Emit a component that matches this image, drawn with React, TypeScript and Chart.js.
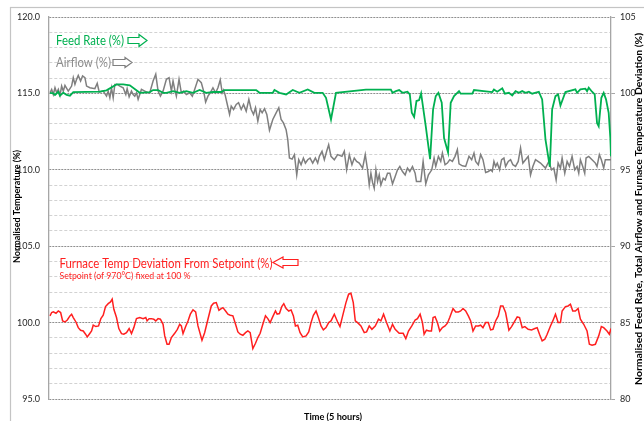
import React, { useEffect, useRef } from 'react';
import { Chart, registerables } from 'chart.js';

Chart.register(...registerables);

const FONT = 'Lato, "Noto Sans", sans-serif';

// time axis: sample steps across the 5-hour run
const timeMax = 1690;

const feedTime = [3, 13, 18, 28, 33, 43, 53, 63, 73, 153, 173, 203, 223, 243, 273, 303, 313, 328, 343, 353, 373, 393, 413, 433, 453, 473, 493, 518, 528, 623, 633, 673, 678, 693, 713, 733, 753, 778, 798, 823, 833, 848, 863, 953, 1028, 1033, 1043, 1053, 1063, 1078, 1085, 1091, 1098, 1105, 1113, 1119, 1133, 1146, 1155, 1163, 1171, 1181, 1188, 1200, 1208, 1218, 1233, 1238, 1273, 1278, 1333, 1338, 1348, 1363, 1371, 1383, 1393, 1403, 1413, 1423, 1433, 1443, 1453, 1473, 1483, 1493, 1506, 1513, 1523, 1531, 1538, 1553, 1583, 1588, 1598, 1613, 1618, 1623, 1633, 1641, 1648, 1653, 1661, 1668, 1675, 1683, 1688, 1690];
const feedRate = [100.04, 100.0, 99.9, 100.1, 99.85, 100.05, 99.9, 99.85, 100.09, 100.11, 100.2, 100.59, 100.59, 100.53, 100.04, 100.09, 100.22, 100.22, 100.04, 100.04, 100.15, 100.04, 100.15, 100.04, 100.22, 100.04, 100.09, 100.09, 100.22, 100.22, 100.04, 100.04, 100.22, 100.04, 99.93, 100.22, 100.04, 100.26, 100.04, 100.04, 99.71, 98.29, 100.04, 100.25, 100.25, 100.04, 100.15, 100.22, 100.04, 100.11, 99.93, 98.73, 98.46, 99.5, 99.56, 100.0, 97.85, 95.7, 98.95, 99.82, 100.04, 99.39, 97.08, 96.14, 99.39, 99.82, 100.15, 99.98, 99.98, 100.22, 100.09, 100.26, 100.11, 100.33, 99.98, 100.04, 99.87, 100.15, 100.04, 100.15, 100.04, 100.11, 99.98, 100.11, 99.61, 96.97, 95.2, 98.95, 99.82, 99.93, 99.21, 100.09, 100.26, 100.04, 100.26, 100.31, 100.15, 100.37, 100.11, 99.93, 98.07, 97.85, 99.71, 100.04, 99.61, 98.73, 97.08, 95.88];

const airTime = [3, 8, 13, 18, 23, 28, 33, 38, 43, 48, 58, 68, 73, 78, 83, 88, 95, 101, 108, 113, 123, 138, 145, 151, 163, 173, 178, 183, 188, 193, 198, 205, 213, 223, 231, 235, 241, 248, 253, 258, 263, 268, 278, 288, 298, 303, 313, 321, 328, 335, 343, 353, 361, 368, 373, 378, 383, 391, 398, 405, 413, 423, 431, 438, 448, 458, 465, 471, 478, 485, 493, 501, 508, 515, 521, 525, 530, 535, 543, 548, 555, 563, 570, 578, 585, 593, 601, 608, 615, 621, 628, 635, 641, 648, 655, 663, 673, 683, 691, 698, 705, 713, 718, 723, 731, 738, 745, 751, 758, 765, 771, 778, 785, 793, 801, 808, 813, 821, 828, 835, 841, 848, 858, 868, 881, 888, 895, 903, 911, 918, 925, 933, 943, 951, 958, 963, 968, 973, 978, 983, 988, 993, 998, 1005, 1011, 1018, 1025, 1033, 1041, 1048, 1055, 1063, 1071, 1078, 1085, 1093, 1101, 1105, 1118, 1125, 1133, 1141, 1151, 1158, 1163, 1171, 1178, 1183, 1191, 1198, 1205, 1213, 1221, 1228, 1233, 1243, 1253, 1263, 1271, 1278, 1283, 1291, 1298, 1305, 1313, 1321, 1328, 1333, 1338, 1343, 1348, 1355, 1361, 1368, 1373, 1381, 1388, 1395, 1403, 1411, 1418, 1425, 1433, 1441, 1448, 1455, 1463, 1478, 1493, 1503, 1511, 1518, 1525, 1531, 1538, 1543, 1551, 1558, 1565, 1573, 1581, 1588, 1593, 1598, 1605, 1611, 1615, 1623, 1633, 1643, 1648, 1655, 1661, 1668, 1673, 1683, 1690];
const airflow = [100.04, 100.26, 99.93, 100.37, 100.04, 100.26, 99.87, 100.48, 100.15, 100.53, 100.15, 100.48, 101.03, 100.59, 100.92, 101.18, 100.81, 101.14, 101.03, 100.48, 100.37, 100.31, 100.66, 100.09, 100.15, 99.82, 100.15, 99.71, 100.37, 99.71, 100.59, 100.59, 100.48, 100.37, 99.93, 100.31, 99.78, 100.15, 99.93, 99.82, 100.04, 99.61, 100.26, 100.15, 100.04, 100.04, 100.81, 101.25, 100.15, 99.82, 100.15, 100.92, 101.03, 100.15, 100.81, 100.26, 99.82, 100.92, 100.04, 100.15, 99.93, 100.04, 99.82, 100.26, 100.92, 100.7, 100.15, 99.43, 99.82, 100.04, 100.37, 100.04, 100.37, 100.88, 100.04, 100.22, 99.87, 99.39, 98.62, 99.17, 98.95, 99.28, 99.39, 98.95, 99.28, 98.84, 99.61, 98.95, 98.62, 99.06, 98.18, 98.95, 98.73, 99.0, 98.62, 97.59, 98.29, 98.73, 99.06, 98.29, 98.07, 97.63, 96.97, 95.77, 95.7, 95.99, 94.67, 95.66, 95.33, 95.77, 95.44, 95.66, 95.77, 95.44, 95.77, 95.44, 95.88, 96.21, 95.66, 96.21, 96.64, 95.88, 95.66, 95.99, 95.88, 96.21, 95.0, 95.99, 95.33, 95.77, 95.55, 95.44, 95.11, 95.99, 95.0, 94.01, 94.78, 94.17, 93.79, 95.0, 94.23, 94.67, 94.01, 94.45, 94.34, 94.78, 94.78, 94.08, 94.56, 95.0, 95.22, 94.89, 94.67, 95.11, 94.89, 95.22, 94.78, 94.23, 94.23, 95.55, 94.08, 94.67, 95.0, 95.77, 95.22, 95.88, 95.55, 96.1, 95.33, 95.44, 95.66, 95.55, 95.88, 96.32, 95.39, 95.26, 95.22, 95.88, 95.66, 96.1, 95.55, 95.33, 95.99, 95.66, 94.82, 94.89, 95.0, 94.89, 95.55, 95.22, 95.44, 95.0, 95.66, 95.77, 95.22, 95.55, 95.66, 95.33, 95.22, 95.55, 96.43, 95.44, 95.66, 95.88, 94.67, 95.22, 95.66, 95.44, 95.11, 95.55, 95.0, 95.11, 94.34, 95.44, 95.11, 95.77, 94.78, 95.55, 95.22, 95.88, 95.0, 95.22, 94.78, 95.66, 95.22, 94.78, 95.77, 95.88, 95.66, 95.44, 95.22, 95.99, 95.66, 95.11, 95.66, 95.66, 95.66];

const tempTime = [3, 8, 13, 21, 28, 35, 41, 48, 55, 63, 68, 73, 81, 88, 95, 103, 110, 115, 121, 128, 133, 141, 149, 156, 163, 170, 178, 185, 190, 195, 203, 210, 218, 225, 233, 241, 248, 255, 263, 273, 283, 291, 295, 301, 308, 315, 321, 328, 335, 343, 348, 355, 361, 368, 378, 386, 393, 398, 403, 411, 418, 425, 433, 441, 448, 460, 468, 478, 488, 495, 503, 511, 518, 523, 531, 538, 545, 553, 561, 568, 575, 583, 591, 598, 605, 613, 621, 628, 635, 643, 651, 658, 665, 673, 681, 686, 693, 700, 706, 713, 721, 728, 735, 741, 748, 755, 763, 773, 781, 788, 795, 803, 810, 818, 825, 833, 841, 848, 858, 868, 875, 883, 893, 901, 908, 915, 921, 928, 938, 948, 955, 963, 971, 981, 991, 998, 1006, 1015, 1025, 1033, 1041, 1053, 1065, 1073, 1081, 1091, 1101, 1108, 1116, 1123, 1128, 1135, 1143, 1150, 1155, 1161, 1168, 1175, 1183, 1191, 1198, 1205, 1215, 1223, 1231, 1238, 1245, 1253, 1261, 1268, 1275, 1283, 1291, 1298, 1305, 1313, 1321, 1328, 1335, 1343, 1351, 1358, 1365, 1373, 1383, 1391, 1401, 1408, 1415, 1423, 1431, 1441, 1451, 1461, 1468, 1475, 1483, 1491, 1498, 1508, 1515, 1523, 1531, 1538, 1543, 1553, 1561, 1568, 1575, 1583, 1591, 1598, 1608, 1618, 1625, 1633, 1643, 1653, 1661, 1668, 1678, 1685, 1690];
const tempDeviation = [100.44, 100.66, 100.7, 100.61, 100.76, 100.66, 100.11, 100.04, 100.17, 100.44, 100.55, 100.33, 100.04, 99.67, 99.5, 99.45, 99.24, 99.06, 99.24, 99.45, 99.83, 99.74, 99.78, 100.26, 100.48, 101.05, 101.24, 101.35, 101.53, 100.87, 100.33, 99.61, 99.28, 99.24, 99.34, 99.61, 99.28, 99.67, 100.26, 100.33, 100.26, 100.33, 100.11, 100.26, 100.26, 100.22, 100.11, 100.26, 100.22, 99.89, 99.13, 98.58, 98.58, 99.02, 99.3, 99.56, 99.89, 99.78, 99.28, 99.74, 100.11, 100.55, 100.83, 100.7, 99.78, 98.84, 99.34, 100.22, 101.09, 101.27, 101.31, 100.81, 100.92, 100.98, 100.76, 100.55, 100.48, 100.44, 99.89, 99.39, 99.24, 99.17, 99.34, 99.45, 99.34, 98.3, 98.65, 99.02, 99.3, 99.89, 100.44, 100.26, 100.0, 100.39, 100.76, 100.55, 100.59, 101.05, 101.24, 100.92, 100.76, 100.83, 100.44, 99.78, 99.83, 99.34, 99.06, 99.13, 99.39, 100.0, 100.48, 100.76, 100.33, 99.78, 99.52, 99.67, 100.0, 100.11, 100.55, 100.04, 99.74, 100.44, 101.31, 101.86, 101.92, 101.31, 100.11, 100.0, 99.78, 99.34, 99.39, 99.78, 99.56, 99.78, 100.22, 100.11, 100.55, 100.0, 99.45, 99.89, 99.56, 99.3, 99.3, 98.95, 99.45, 99.78, 100.17, 100.26, 100.55, 100.0, 99.24, 99.5, 99.45, 99.45, 100.33, 100.39, 100.0, 99.45, 99.67, 99.78, 99.96, 100.33, 100.92, 100.7, 100.7, 100.76, 100.92, 100.76, 100.44, 100.11, 99.45, 99.78, 99.78, 99.83, 99.67, 100.0, 100.0, 99.52, 99.56, 100.11, 100.44, 101.09, 101.09, 100.66, 99.5, 99.74, 100.11, 100.37, 100.33, 99.67, 99.74, 99.56, 99.52, 99.61, 99.67, 99.24, 98.8, 98.91, 99.24, 99.78, 100.11, 100.55, 100.0, 100.0, 100.76, 101.05, 101.09, 101.2, 100.76, 100.76, 100.92, 100.22, 99.89, 99.45, 98.58, 98.52, 98.58, 99.13, 99.74, 99.67, 99.45, 99.24, 99.61];

const leftMin = 95, leftMax = 120;
const rightMin = 80, rightMax = 105;
const majorStep = 5;

const feedLabel = 'Feed Rate (%)';
const airLabel = 'Airflow (%)';
const tempLabel = 'Furnace Temp Deviation From Setpoint (%)';
const setpointNote = 'Setpoint (of 970°C) fixed at 100 %';
const leftTitle = 'Normalised Temperature (%)';
const rightTitle = 'Normalised Feed Rate, Total Airflow and Furnace Temperature Deviation (%)';
const xTitle = 'Time (5 hours)';

const GREEN = '#00b050';
const GRAY = '#7f7f7f';
const RED = '#ff1f1f';

function zip(t: number[], v: number[]) {
  return t.map((x, i) => ({ x, y: v[i] }));
}

// draws text at a given font size, squeezed horizontally to the given width
function drawText(ctx: CanvasRenderingContext2D, text: string, color: string, x: number, cy: number, width: number, size: number, weight = 'normal', align: CanvasTextAlign = 'left') {
  ctx.save();
  ctx.font = `${weight} ${size}px ${FONT}`;
  const w = ctx.measureText(text).width;
  const sx = width / w;
  ctx.translate(x, cy);
  ctx.scale(sx, 1);
  ctx.fillStyle = color;
  ctx.textAlign = align;
  ctx.textBaseline = 'middle';
  ctx.fillText(text, 0, 0);
  ctx.restore();
}

function blockArrow(ctx: CanvasRenderingContext2D, x0: number, x1: number, cy: number, head: number, shaft: number, headHalf: number, dir: 1 | -1, color: string) {
  ctx.save();
  ctx.beginPath();
  if (dir === 1) {
    ctx.moveTo(x0, cy - shaft);
    ctx.lineTo(x1 - head, cy - shaft);
    ctx.lineTo(x1 - head, cy - headHalf);
    ctx.lineTo(x1, cy);
    ctx.lineTo(x1 - head, cy + headHalf);
    ctx.lineTo(x1 - head, cy + shaft);
    ctx.lineTo(x0, cy + shaft);
  } else {
    ctx.moveTo(x1, cy - shaft);
    ctx.lineTo(x0 + head, cy - shaft);
    ctx.lineTo(x0 + head, cy - headHalf);
    ctx.lineTo(x0, cy);
    ctx.lineTo(x0 + head, cy + headHalf);
    ctx.lineTo(x0 + head, cy + shaft);
    ctx.lineTo(x1, cy + shaft);
  }
  ctx.closePath();
  ctx.fillStyle = '#ffffff';
  ctx.fill();
  ctx.lineWidth = 1.2;
  ctx.strokeStyle = color;
  ctx.stroke();
  ctx.restore();
}

const decorPlugin = {
  id: 'decor',
  beforeDraw(chart: any) {
    const ctx = chart.ctx as CanvasRenderingContext2D;
    ctx.save();
    ctx.fillStyle = '#ffffff';
    ctx.fillRect(0, 0, chart.width, chart.height);
    ctx.strokeStyle = '#c4c4c4';
    ctx.lineWidth = 1.2;
    ctx.strokeRect(10.5, 7.5, 800, 600);
    ctx.restore();
  },
  afterDraw(chart: any) {
    const ctx = chart.ctx as CanvasRenderingContext2D;
    const area = chart.chartArea;
    ctx.save();
    drawText(ctx, feedLabel, GREEN, 56, 40.5, 68, 13);
    blockArrow(ctx, 128, 147, 40.5, 8, 3, 6, 1, GREEN);
    drawText(ctx, airLabel, '#8c8c8c', 56, 62.5, 55, 13);
    blockArrow(ctx, 113, 132, 62.5, 7, 3, 5, 1, GRAY);
    drawText(ctx, tempLabel, RED, 59.5, 263.5, 213, 13.5);
    blockArrow(ctx, 273, 298, 262.5, 10, 3, 5.5, -1, RED);
    drawText(ctx, setpointNote, RED, 59.5, 275.5, 131, 9.5);

    const midY = (area.top + area.bottom) / 2;
    ctx.save();
    ctx.translate(17.5, midY - 1.5);
    ctx.rotate(-Math.PI / 2);
    drawText(ctx, leftTitle, '#000', 0, 0, 113, 9, 'bold', 'center');
    ctx.restore();
    ctx.save();
    ctx.translate(638.5, midY + 1);
    ctx.rotate(-Math.PI / 2);
    drawText(ctx, rightTitle, '#000', 0, 0, 352, 9.5, 'bold', 'center');
    ctx.restore();
    drawText(ctx, xTitle, '#000', (area.left + area.right) / 2 + 3, 416.5, 58, 9.5, 'bold', 'center');
    ctx.restore();
  },
};

export default function App() {
  const ref = useRef<HTMLCanvasElement>(null);
  useEffect(() => {
    if (!ref.current) return;
    const isMajor = (v: number) => Math.abs(v % majorStep) < 1e-6;
    const chart = new Chart(ref.current, {
      type: 'line',
      data: {
        datasets: [
          { label: feedLabel, data: zip(feedTime, feedRate), yAxisID: 'y2', borderColor: GREEN, borderWidth: 1.8, pointRadius: 0, tension: 0, fill: false },
          { label: airLabel, data: zip(airTime, airflow), yAxisID: 'y2', borderColor: GRAY, borderWidth: 1.5, pointRadius: 0, tension: 0, fill: false },
          { label: tempLabel, data: zip(tempTime, tempDeviation), yAxisID: 'y', borderColor: RED, borderWidth: 1.5, pointRadius: 0, tension: 0, fill: false },
        ],
      },
      options: {
        responsive: false,
        animation: false,
        devicePixelRatio: 1,
        layout: { padding: { top: 17, bottom: 22, left: 0, right: 0 } },
        plugins: { legend: { display: false }, tooltip: { enabled: false } },
        events: [],
        scales: {
          x: { type: 'linear', min: 0, max: timeMax, display: false },
          y: {
            position: 'left',
            min: leftMin,
            max: leftMax,
            afterFit: (s: any) => { s.width = 49; },
            ticks: {
              stepSize: 1,
              autoSkip: false,
              padding: 9,
              color: '#262626',
              font: { family: FONT, size: 9 },
              callback: (v: any) => (isMajor(Number(v)) ? Number(v).toFixed(1) : ''),
            },
            grid: {
              drawTicks: false,
              lineWidth: 1,
              color: (c: any) => (c.tick && isMajor(c.tick.value) ? '#8f8f8f' : '#d2d2d2'),
            },
            border: {
              display: true,
              color: '#a6a6a6',
              width: 1.3,
              dash: (c: any) => (c.tick ? (isMajor(c.tick.value) ? [2, 1] : [3, 2]) : []),
            },
          },
          y2: {
            position: 'right',
            min: rightMin,
            max: rightMax,
            afterFit: (s: any) => { s.width = 33; },
            ticks: {
              stepSize: 1,
              autoSkip: false,
              padding: 5,
              color: '#262626',
              font: { family: FONT, size: 9 },
              callback: (v: any) => (isMajor(Number(v)) ? String(v) : ''),
            },
            grid: {
              drawOnChartArea: false,
              drawTicks: true,
              tickLength: 4,
              color: (c: any) => (c.tick && isMajor(c.tick.value) ? '#a6a6a6' : 'rgba(0,0,0,0)'),
            },
            border: { display: true, color: '#a6a6a6', width: 1.3 },
          },
        },
      },
      plugins: [decorPlugin],
    } as any);
    return () => chart.destroy();
  }, []);
  return (
    <div style={{ position: 'fixed', left: 0, top: 0, width: 644, height: 421, background: '#fff' }}>
      <canvas ref={ref} width={644} height={421} style={{ display: 'block' }} />
    </div>
  );
}
